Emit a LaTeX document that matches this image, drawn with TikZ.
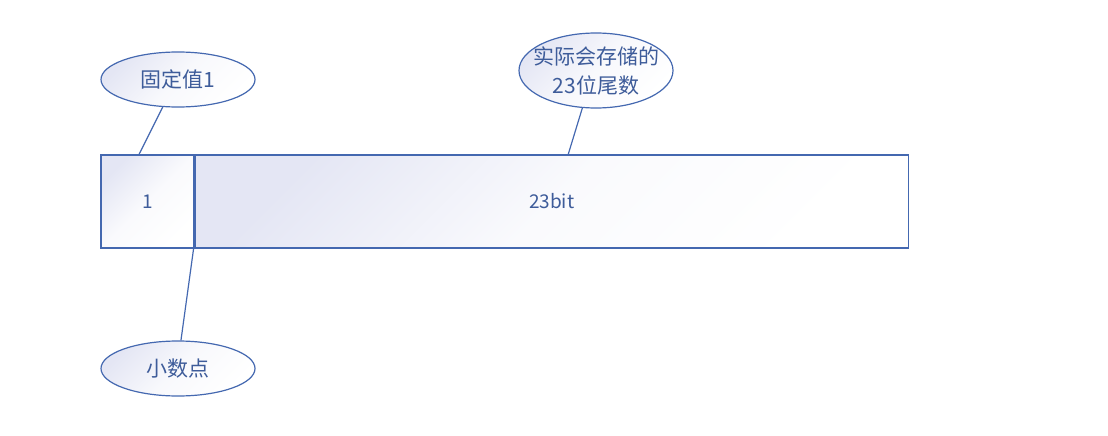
\documentclass[tikz,border=0pt]{standalone}
\usepackage{fontspec}
\setmainfont{Noto Sans CJK SC}
\usepackage{tikz}
\usetikzlibrary{shapes.geometric,positioning}
\definecolor{edgeblue}{HTML}{4468B0}
\definecolor{textblue}{HTML}{3E5C9A}
\definecolor{shadelav}{HTML}{E4E6F4}

\begin{document}
\begin{tikzpicture}[x=1pt,y=-1pt,line width=1.2pt,
	bubble/.style={ellipse,draw=edgeblue,inner sep=0pt,inner xsep=-16pt,minimum width=154pt,minimum height=55pt,
		top color=shadelav,bottom color=white,middle color=shadelav!25!white,shading angle=45,text=textblue,align=center,
		font=\fontsize{21}{29}\selectfont},
	field/.style={rectangle,draw=edgeblue,inner sep=0pt,minimum height=93pt,
		top color=shadelav,bottom color=white,middle color=shadelav!20!white,shading angle=45,text=textblue,
		font=\fontsize{19}{22}\selectfont},
	link/.style={draw=edgeblue}]
	\useasboundingbox (0,0) rectangle (1108,436);
	\node [field,minimum width=93pt] (one) at (147.5,201.5) {1};
	\node [field,minimum width=713pt,anchor=west] (mant) at (one.east) {23bit};
	\node [bubble] (fixed) at (178,79.5) {固定值1};
	\node [bubble,minimum height=75pt] (stored) at (596,70.5) {实际会存储的\\23位尾数};
	\node [bubble] (point) at (178,368.5) {小数点};
	\path [link] (fixed.241) -- ([xshift=-8.5pt]one.north);
	\path [link] (stored.250) -- ([xshift=16.5pt]mant.north);
	\path [link] ([xshift=-1pt]one.south east) -- (point.84);
\end{tikzpicture}
\end{document}
